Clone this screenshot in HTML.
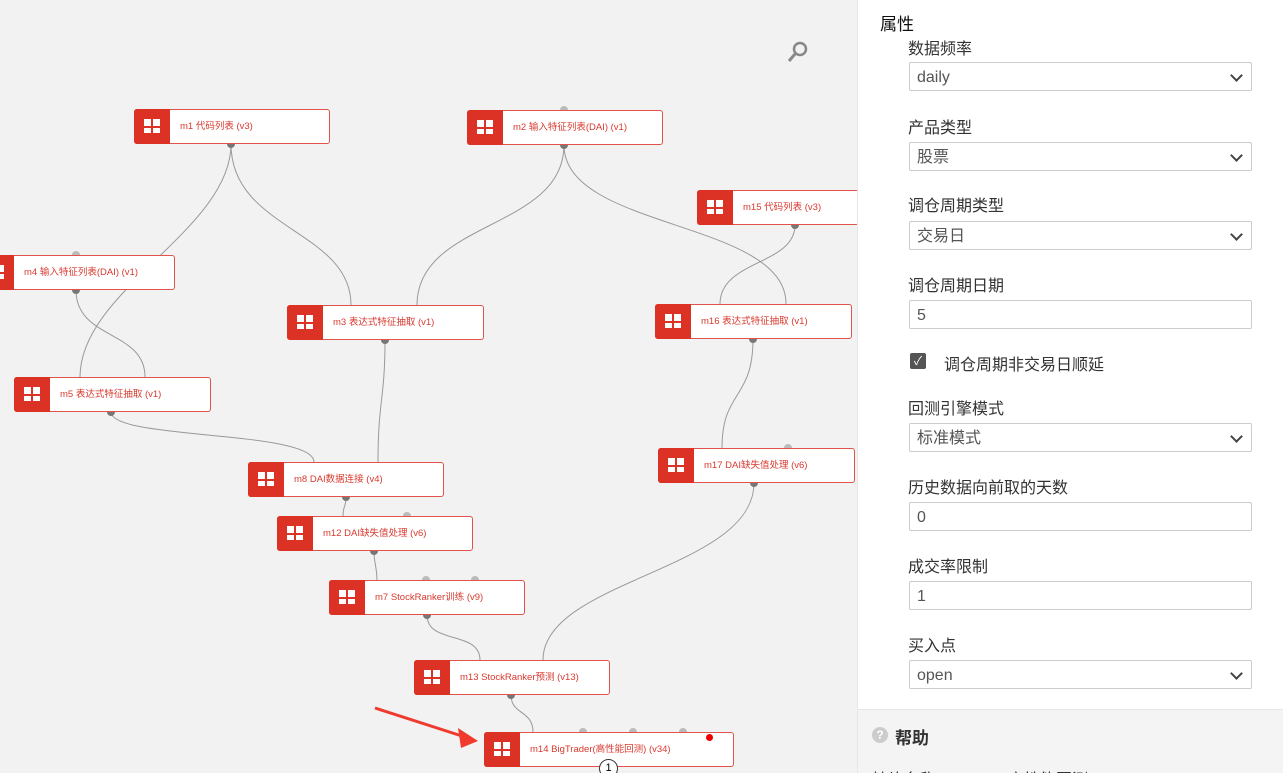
<!DOCTYPE html>
<html style="width:1283px;height:773px;overflow:hidden"><head><meta charset="utf-8"><style>
*{box-sizing:border-box;margin:0;padding:0}
body{width:1283px;height:773px;overflow:hidden;background:#f2f2f2;font-family:"Liberation Sans","Noto Sans CJK SC",sans-serif;position:relative}
.n{position:absolute;height:35px;background:#fff;border:1px solid #e0524a;border-radius:3px;font-size:9.5px;color:#d8392e;line-height:33px}
.n .ic{position:absolute;left:-1px;top:-1px;bottom:-1px;width:36px;background:#dc3125;border-radius:3px 0 0 3px}
.n .ic:after{content:"";position:absolute;left:10px;top:10px;width:16px;height:14px;background:linear-gradient(#dc3125,#dc3125) 7px 0/2px 100% no-repeat,linear-gradient(#dc3125,#dc3125) 0 7px/100% 2px no-repeat,#fff}
.n span{position:absolute;left:45px;white-space:nowrap}
.p{position:absolute;left:857px;top:0;width:426px;height:773px;background:#fff;border-left:1px solid #e6e6e6;overflow:hidden}
.lb{position:absolute;left:50px;font-size:16px;color:#333}
.in{position:absolute;left:51px;width:343px;height:29px;border:1px solid #ccc;border-radius:2px;font-size:16px;color:#555;padding-left:7px;line-height:29px}
.in.s:after{content:"";position:absolute;right:10px;top:8px;width:7px;height:7px;border-right:2px solid #444;border-bottom:2px solid #444;transform:rotate(45deg)}
</style></head><body>
<svg width="857" height="773" style="position:absolute;left:0;top:0" fill="none" stroke="#999" stroke-width="1">
<path d="M231 144 C231 230 80 290 80 377"/>
<path d="M231 144 C231 230 351 230 351 305"/>
<path d="M564 145 C564 230 417 220 417 305"/>
<path d="M564 145 C564 230 786 220 786 304"/>
<path d="M795 225 C795 265 720 260 720 304"/>
<path d="M76 290 C76 340 145 330 145 377"/>
<path d="M111 412 C111 440 314 430 314 462"/>
<path d="M385 340 C385 400 378 400 378 462"/>
<path d="M346 497 C346 508 343 505 343 516"/>
<path d="M374 551 C374 566 377 565 377 580"/>
<path d="M427 615 C427 645 480 630 480 660"/>
<path d="M754 483 C754 570 543 580 543 660"/>
<path d="M753 339 C753 400 722 390 722 448"/>
<path d="M511 695 C511 715 533 710 533 732"/>
<path d="M375 708 L465 737" stroke="#f03a2e" stroke-width="3"/>
<path d="M478 741 L458 728 L461 748 Z" fill="#f03a2e" stroke="none"/>
<g fill="#777" stroke="none">
<circle cx="231" cy="144" r="4"/><circle cx="564" cy="145" r="4"/><circle cx="795" cy="225" r="4"/><circle cx="76" cy="290" r="4"/><circle cx="111" cy="412" r="4"/><circle cx="385" cy="340" r="4"/><circle cx="346" cy="497" r="4"/><circle cx="374" cy="551" r="4"/><circle cx="427" cy="615" r="4"/><circle cx="754" cy="483" r="4"/><circle cx="753" cy="339" r="4"/><circle cx="511" cy="695" r="4"/>
</g>
<g fill="#bbb" stroke="none">
<circle cx="564" cy="110" r="4"/><circle cx="76" cy="255" r="4"/><circle cx="407" cy="516" r="4"/><circle cx="426" cy="580" r="4"/><circle cx="475" cy="580" r="4"/><circle cx="788" cy="448" r="4"/><circle cx="583" cy="732" r="4"/><circle cx="633" cy="732" r="4"/><circle cx="683" cy="732" r="4"/>
</g>
<circle cx="800" cy="49" r="6" stroke="#888" stroke-width="2.5"/><path d="M795 54 L789 61" stroke="#888" stroke-width="3"/>
</svg>
<div class="n" style="left:134px;top:109px;width:196px"><i class="ic"></i><span>m1 代码列表 (v3)</span></div>
<div class="n" style="left:467px;top:110px;width:196px"><i class="ic"></i><span>m2 输入特征列表(DAI) (v1)</span></div>
<div class="n" style="left:697px;top:190px;width:162px"><i class="ic"></i><span>m15 代码列表 (v3)</span></div>
<div class="n" style="left:-22px;top:255px;width:197px"><i class="ic"></i><span>m4 输入特征列表(DAI) (v1)</span></div>
<div class="n" style="left:287px;top:305px;width:197px"><i class="ic"></i><span>m3 表达式特征抽取 (v1)</span></div>
<div class="n" style="left:655px;top:304px;width:197px"><i class="ic"></i><span>m16 表达式特征抽取 (v1)</span></div>
<div class="n" style="left:14px;top:377px;width:197px"><i class="ic"></i><span>m5 表达式特征抽取 (v1)</span></div>
<div class="n" style="left:658px;top:448px;width:197px"><i class="ic"></i><span>m17 DAI缺失值处理 (v6)</span></div>
<div class="n" style="left:248px;top:462px;width:196px"><i class="ic"></i><span>m8 DAI数据连接 (v4)</span></div>
<div class="n" style="left:277px;top:516px;width:196px"><i class="ic"></i><span>m12 DAI缺失值处理 (v6)</span></div>
<div class="n" style="left:329px;top:580px;width:196px"><i class="ic"></i><span>m7 StockRanker训练 (v9)</span></div>
<div class="n" style="left:414px;top:660px;width:196px"><i class="ic"></i><span>m13 StockRanker预测 (v13)</span></div>
<div class="n" style="left:484px;top:732px;width:250px"><i class="ic"></i><span>m14 BigTrader(高性能回测) (v34)</span></div>
<div style="position:absolute;left:706px;top:734px;width:7px;height:7px;border-radius:50%;background:#e00"></div>
<div style="position:absolute;left:599px;top:759px;width:19px;height:19px;border-radius:50%;border:1px solid #333;background:#fff;font-size:11px;text-align:center;line-height:17px">1</div>
<div class="p">
<div style="position:absolute;left:22px;top:10px;font-size:17px;color:#111">属性</div>
<div class="lb" style="top:35px">数据频率</div><div class="in s" style="top:62px">daily</div>
<div class="lb" style="top:114px">产品类型</div><div class="in s" style="top:142px">股票</div>
<div class="lb" style="top:192px">调仓周期类型</div><div class="in s" style="top:221px">交易日</div>
<div class="lb" style="top:272px">调仓周期日期</div><div class="in" style="top:300px">5</div>
<div style="position:absolute;left:52px;top:353px;width:16px;height:16px;background:#555;border-radius:2px;color:#fff;font-size:12px;text-align:center;line-height:16px">✓</div>
<div class="lb" style="top:351px;left:86px">调仓周期非交易日顺延</div>
<div class="lb" style="top:395px">回测引擎模式</div><div class="in s" style="top:423px">标准模式</div>
<div class="lb" style="top:474px">历史数据向前取的天数</div><div class="in" style="top:502px">0</div>
<div class="lb" style="top:553px">成交率限制</div><div class="in" style="top:581px">1</div>
<div class="lb" style="top:632px">买入点</div><div class="in s" style="top:660px">open</div>
<div style="position:absolute;left:0;top:709px;width:426px;height:64px;background:#f4f4f4;border-top:1px solid #e6e6e6;overflow:hidden">
<div style="position:absolute;left:14px;top:17px;width:16px;height:16px;border-radius:50%;background:#ccc;color:#fff;font-size:12px;font-weight:bold;text-align:center;line-height:16px">?</div>
<div style="position:absolute;left:37px;top:14px;font-size:17px;font-weight:bold;color:#333">帮助</div>
<div style="position:absolute;left:14px;top:56px;font-size:16px;color:#333;white-space:nowrap">抽片名称 bigtrader 高性能回测</div>
</div>
</div>
</body></html>
